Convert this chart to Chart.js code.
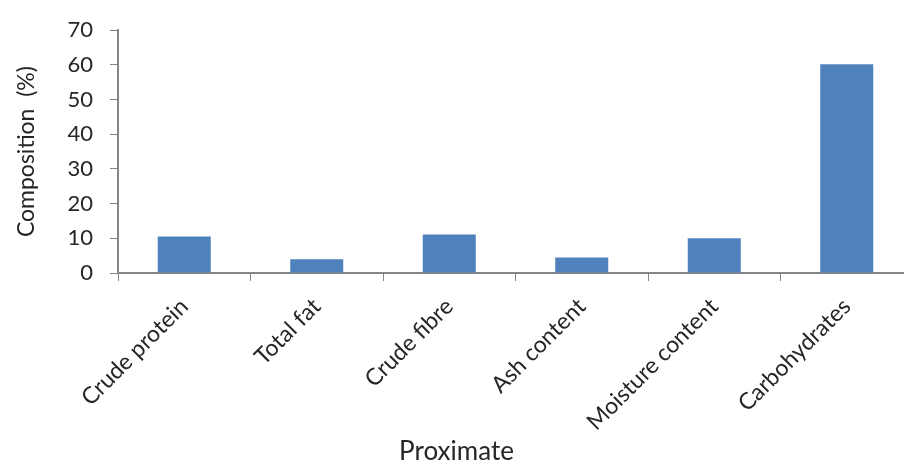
<!DOCTYPE html>
<html>
<head>
<meta charset="utf-8">
<script src="https://cdn.jsdelivr.net/npm/chart.js@4/dist/chart.umd.min.js"></script>
<style>
  html, body { margin: 0; padding: 0; background: #fff; overflow: hidden; }
  #wrap { position: absolute; left: 0; top: 0; width: 914px; height: 465px; }
</style>
</head>
<body>
<div id="wrap"><canvas id="chart" width="914" height="465"></canvas></div>
<script>
// Proximate composition of the sample, percent
const categories = ['Crude protein', 'Total fat', 'Crude fibre', 'Ash content', 'Moisture content', 'Carbohydrates'];
const composition = [10.5, 4.0, 11.1, 4.5, 10.0, 60.2];
const yTicks = [0, 10, 20, 30, 40, 50, 60, 70];

const axisGrey = '#868686';
const textColor = '#262626';
const fontFamily = 'Lato, "Open Sans", "Liberation Sans", sans-serif';

new Chart(document.getElementById('chart'), {
  type: 'bar',
  data: {
    labels: categories,
    datasets: [{
      data: composition,
      backgroundColor: '#4F81BD',
      borderWidth: 0,
      categoryPercentage: 1.0,
      barPercentage: 0.4
    }]
  },
  options: {
    responsive: false,
    animation: false,
    layout: { padding: { top: 16, right: 1, left: 0, bottom: 0 } },
    plugins: {
      legend: { display: false },
      tooltip: { enabled: false },
      title: {
        display: true,
        position: 'bottom',
        text: 'Proximate',
        color: textColor,
        font: { family: fontFamily, size: 26, weight: 'normal', lineHeight: 1.0 },
        padding: { top: 0, bottom: 0 }
      }
    },
    scales: {
      x: {
        grid: {
          display: true,
          drawOnChartArea: false,
          drawTicks: true,
          tickLength: 8,
          color: axisGrey,
          offset: true
        },
        border: { display: true, color: axisGrey, width: 2 },
        ticks: {
          color: textColor,
          font: { family: fontFamily, size: 23 },
          minRotation: 45,
          maxRotation: 45,
          padding: 12,
          autoSkip: false
        },
        afterFit(scale) { scale.height = 166; }
      },
      y: {
        min: 0,
        max: 70,
        afterBuildTicks(scale) { scale.ticks = yTicks.map(v => ({ value: v })); },
        grid: {
          display: true,
          drawOnChartArea: false,
          drawTicks: true,
          tickLength: 8,
          color: axisGrey
        },
        border: { display: true, color: axisGrey, width: 2 },
        ticks: {
          color: textColor,
          font: { family: fontFamily, size: 22 },
          padding: 17
        },
        title: {
          display: true,
          text: 'Composition  (%)',
          color: textColor,
          font: { family: fontFamily, size: 23 },
          padding: { top: 13, bottom: 0 }
        },
        afterFit(scale) { scale.width = 118; }
      }
    }
  }
});
</script>
</body>
</html>
